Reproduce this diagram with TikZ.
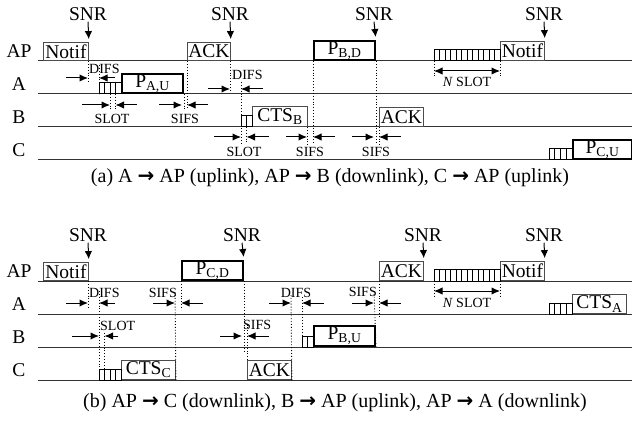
\documentclass[tikz,border=0pt]{standalone}
\usepackage{fontspec}
\setmainfont{Liberation Serif}
\newfontfamily\arrowfont{DejaVu Sans}
\usepackage{tikz}
\usetikzlibrary{arrows.meta}

\begin{document}
\begin{tikzpicture}[x=1pt, y=-1pt,
    timeline/.style={draw=black!80, line width=1pt},
    frame/.style={draw=black!70, line width=0.9pt, anchor=south west, inner sep=0pt, font=\fontsize{19.5}{22}\selectfont},
    packet/.style={draw=black, line width=2pt, anchor=south west, inner sep=0pt, font=\fontsize{19.5}{22}\selectfont},
    slot/.style={draw=black, line width=1pt},
    guide/.style={dotted, line width=0.9pt},
    gap/.style={-{Latex[length=8.5pt, width=7.5pt]}, line width=1pt},
    span/.style={{Latex[length=8.5pt, width=7.5pt]}-{Latex[length=8.5pt, width=7.5pt]}, line width=1pt},
    sense/.style={-{Latex[length=8pt, width=7.5pt]}, line width=1pt, shorten >=3pt},
    station/.style={font=\fontsize{19.5}{22}\selectfont, inner sep=1pt},
    ifs/.style={font=\fontsize{14}{16}\selectfont, inner sep=0pt},
    caption/.style={font=\fontsize{20}{22}\selectfont}
  ]
    \useasboundingbox (0,0) rectangle (632,422);

    % (a) uplink, downlink, uplink
    \foreach \name/\y in {AP/61, A/94, B/127, C/160} {
      \node[station] (rowa\name) at (19,\y-10) {\name};
      \draw[timeline] (38,\y) -- (632,\y);
    }

    \node[frame, minimum width=45pt, minimum height=18pt] (notifa) at (43,61) {Notif};
    \node[packet, minimum width=61pt, minimum height=19pt] (pau) at (121,94) {P\textsubscript{A,U}};
    \node[frame, minimum width=43pt, minimum height=18pt] (acka) at (187,61) {ACK};
    \node[frame, minimum width=55pt, minimum height=20pt] (ctsb) at (252,127) {CTS\textsubscript{B}};
    \node[packet, minimum width=61pt, minimum height=19pt] (pbd) at (313,61) {P\textsubscript{B,D}};
    \node[frame, minimum width=44pt, minimum height=19pt] (ackb) at (379,127) {ACK};
    \node[frame, minimum width=44pt, minimum height=19pt] (notifb) at (500,61) {Notif};
    \node[packet, minimum width=59pt, minimum height=19pt] (pcu) at (572,160) {P\textsubscript{C,U}};

    \foreach \i in {0,...,3} \draw[slot] (99+\i*5.5,94) rectangle ++(5.5,-11);
    \foreach \i in {0,...,1} \draw[slot] (241+\i*5.5,127) rectangle ++(5.5,-11);
    \foreach \i in {0,...,11} \draw[slot] (434+\i*5.5,61) rectangle ++(5.5,-11);
    \foreach \i in {0,...,3} \draw[slot] (549+\i*5.75,160) rectangle ++(5.75,-11);

    \node[station] (snra1) at (88,14) {SNR};
    \node[station] (snra2) at (230,14) {SNR};
    \node[station] (snra3) at (374,14) {SNR};
    \node[station] (snra4) at (544,14) {SNR};
    \draw[sense] (snra1.south) -- (notifa.north east);
    \draw[sense] (snra2.south) -- (acka.north east);
    \draw[sense] (snra3.south) -- (pbd.north east);
    \draw[sense] (snra4.south) -- (notifb.north east);

    \draw[guide] (notifa.south east) -- ++(0,21);
    \draw[guide] (99,65) -- (99,94);
    \draw[gap] (66,78) -- (88,78);
    \draw[gap] (115,78) -- (99,78);
    \node[ifs, anchor=west] (difsa1) at (89,69) {DIFS};

    \draw[guide] (110,94) -- (110,110);
    \draw[guide] (115.5,94) -- (115.5,110);
    \draw[gap] (82,105) -- (110,105);
    \draw[gap] (137,105) -- (115.5,105);
    \node[ifs] (slota1) at (112,119) {SLOT};

    \draw[guide] (pau.south east) -- ++(0,16);
    \draw[guide] (acka.south west) -- ++(0,49);
    \draw[gap] (159,105) -- (182,105);
    \draw[gap] (208,105) -- (187,105);
    \node[ifs] (sifsa1) at (185,119) {SIFS};

    \draw[guide] (acka.south east) -- ++(0,31);
    \draw[guide] (241,82) -- (241,143);
    \draw[gap] (208,89) -- (230,89);
    \draw[gap] (263,89) -- (241,89);
    \node[ifs, anchor=west] (difsa2) at (232,75) {DIFS};

    \draw[guide] (246.5,127) -- (246.5,143);
    \draw[gap] (214,137) -- (241,137);
    \draw[gap] (269,137) -- (246.5,137);
    \node[ifs] (slota2) at (244,152) {SLOT};

    \draw[guide] (ctsb.south east) -- ++(0,18);
    \draw[guide] (pbd.south west) -- ++(0,84);
    \draw[gap] (286,137) -- (307,137);
    \draw[gap] (335,137) -- (313,137);
    \node[ifs] (sifsa2) at (310,152) {SIFS};

    \draw[guide] (pbd.south east) -- ++(0,84);
    \draw[guide] (ackb.south west) -- ++(0,18);
    \draw[gap] (352,137) -- (374,137);
    \draw[gap] (401,137) -- (379,137);
    \node[ifs] (sifsa3) at (376,152) {SIFS};

    \draw[guide] (434,61) -- (434,78);
    \draw[guide] (notifb.south west) -- ++(0,17);
    \draw[span] (434,71) -- (500,71);
    \node[ifs] (nslota) at (467,82) {\textit{N} SLOT};

    \node[caption] (capa) at (330,178) {(a) A {\arrowfont\bfseries →} AP (uplink), AP {\arrowfont\bfseries →} B (downlink), C {\arrowfont\bfseries →} AP (uplink)};

    % (b) downlink, uplink, downlink
    \begin{scope}[yshift=-220pt]
    \foreach \name/\y in {AP/61, A/94, B/127, C/160} {
      \node[station] (rowb\name) at (19,\y-10) {\name};
      \draw[timeline] (38,\y) -- (632,\y);
    }

    \node[frame, minimum width=45pt, minimum height=18pt] (notifc) at (43,61) {Notif};
    \node[frame, minimum width=54pt, minimum height=19pt] (ctsc) at (121,160) {CTS\textsubscript{C}};
    \node[packet, minimum width=61pt, minimum height=19pt] (pcd) at (181,61) {P\textsubscript{C,D}};
    \node[frame, minimum width=44pt, minimum height=19pt] (ackc) at (247,160) {ACK};
    \node[packet, minimum width=61pt, minimum height=20pt] (pbu) at (313,127) {P\textsubscript{B,U}};
    \node[frame, minimum width=44pt, minimum height=19pt] (ackap) at (379,61) {ACK};
    \node[frame, minimum width=44pt, minimum height=19pt] (notifd) at (500,61) {Notif};
    \node[frame, minimum width=54pt, minimum height=19pt] (ctsa) at (572,94) {CTS\textsubscript{A}};

    \foreach \i in {0,...,3} \draw[slot] (99+\i*5.5,160) rectangle ++(5.5,-11);
    \foreach \i in {0,...,1} \draw[slot] (302+\i*5.5,127) rectangle ++(5.5,-11);
    \foreach \i in {0,...,11} \draw[slot] (434+\i*5.5,61) rectangle ++(5.5,-11);
    \foreach \i in {0,...,3} \draw[slot] (549+\i*5.75,94) rectangle ++(5.75,-11);

    \node[station] (snrb1) at (88,15) {SNR};
    \node[station] (snrb2) at (242,15) {SNR};
    \node[station] (snrb3) at (423,15) {SNR};
    \node[station] (snrb4) at (544,15) {SNR};
    \draw[sense] (snrb1.south) -- (notifc.north east);
    \draw[sense] (snrb2.south) -- (pcd.north east);
    \draw[sense] (snrb3.south) -- (ackap.north east);
    \draw[sense] (snrb4.south) -- (notifd.north east);

    \draw[guide] (notifc.south east) -- ++(0,27);
    \draw[guide] (99,71) -- (99,160);
    \draw[gap] (66,83) -- (88,83);
    \draw[gap] (115,83) -- (99,83);
    \node[ifs, anchor=west] (difsb1) at (89,73) {DIFS};

    \draw[guide] (104.5,113) -- (104.5,160);
    \draw[gap] (72,116) -- (99,116);
    \draw[gap] (118,116) -- (104.5,116);
    \node[ifs, anchor=west] (slotb1) at (100,106) {SLOT};

    \draw[guide] (ctsc.south east) -- (175,70);
    \draw[guide] (pcd.south west) -- ++(0,29);
    \draw[gap] (153,83) -- (175,83);
    \draw[gap] (203,83) -- (181,83);
    \node[ifs, anchor=east] (sifsb1) at (177,73) {SIFS};

    \draw[guide] (pcd.south east) -- ++(0,72);
    \draw[guide] (ackc.north west) -- (247,105);
    \draw[gap] (220,116) -- (242,116);
    \draw[gap] (269,116) -- (247,116);
    \node[ifs, anchor=west] (sifsb2) at (243,105) {SIFS};

    \draw[guide] (ackc.south east) -- (291,75);
    \draw[guide] (302,127) -- (302,75);
    \draw[gap] (269,83) -- (291,83);
    \draw[gap] (324,83) -- (302,83);
    \node[ifs] (difsb2) at (296,73) {DIFS};

    \draw[guide] (pbu.south east) -- (374,70);
    \draw[guide] (ackap.south west) -- ++(0,37);
    \draw[gap] (352,83) -- (374,83);
    \draw[gap] (401,83) -- (379,83);
    \node[ifs, anchor=east] (sifsb3) at (377,72) {SIFS};

    \draw[guide] (434,61) -- (434,77);
    \draw[guide] (notifd.south west) -- ++(0,16);
    \draw[span] (434,71) -- (500,71);
    \node[ifs] (nslotb) at (467,83) {\textit{N} SLOT};

    \node[caption] (capb) at (335,183) {(b) AP {\arrowfont\bfseries →} C (downlink), B {\arrowfont\bfseries →} AP (uplink), AP {\arrowfont\bfseries →} A (downlink)};
    \end{scope}
\end{tikzpicture}
\end{document}
